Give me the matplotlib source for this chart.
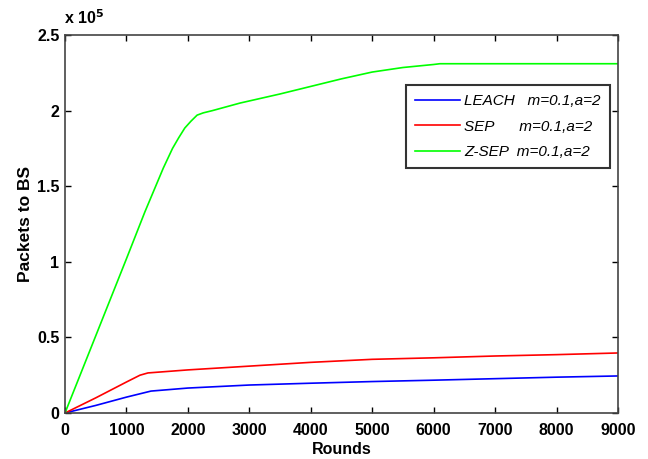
import matplotlib.pyplot as plt

plt.rcParams["font.family"] = ["Liberation Sans", "DejaVu Sans"]

# Packets delivered to base station (units of 1e5) vs rounds
rounds_zsep = [0, 500, 1000, 1300, 1600, 1750, 1850, 1950, 2050, 2150, 2250,
               2400, 2850, 3500, 4000, 4500, 5000, 5500, 6000, 6100, 7000, 8000, 9000]
pkts_zsep = [0, 0.51, 1.02, 1.33, 1.62, 1.75, 1.82, 1.885, 1.93, 1.97, 1.985,
             2.00, 2.05, 2.11, 2.16, 2.21, 2.255, 2.285, 2.305, 2.31, 2.31, 2.31, 2.31]

rounds_sep = [0, 500, 1000, 1220, 1350, 2000, 3000, 4000, 5000, 6000, 7000, 8000, 9000]
pkts_sep = [0, 0.10, 0.205, 0.25, 0.265, 0.285, 0.31, 0.335, 0.355, 0.365, 0.377, 0.386, 0.397]

rounds_leach = [0, 500, 1000, 1400, 2000, 3000, 4000, 5000, 6000, 7000, 8000, 9000]
pkts_leach = [0, 0.05, 0.105, 0.145, 0.165, 0.185, 0.197, 0.208, 0.217, 0.227, 0.237, 0.245]

x_ticks = list(range(0, 9001, 1000))
y_ticks = [0, 0.5, 1, 1.5, 2, 2.5]
y_tick_labels = ["0", "0.5", "1", "1.5", "2", "2.5"]

fig = plt.figure(figsize=(6.48, 4.59), dpi=100)
ax = fig.add_axes([65 / 648, 1 - 413 / 459, 553 / 648, 378 / 459])

ax.plot(rounds_leach, pkts_leach, color="#0000ff", lw=1.2, label="LEACH   m=0.1,a=2")
ax.plot(rounds_sep, pkts_sep, color="#ff0000", lw=1.2, label="SEP      m=0.1,a=2")
ax.plot(rounds_zsep, pkts_zsep, color="#00ff00", lw=1.2, label="Z-SEP  m=0.1,a=2")

ax.set_xlim(0, 9000)
ax.set_ylim(0, 2.5)
ax.set_xticks(x_ticks)
ax.set_xticklabels([str(t) for t in x_ticks])
ax.set_yticks(y_ticks)
ax.set_yticklabels(y_tick_labels)
ax.tick_params(direction="in", top=True, right=True, length=4, width=1,
               labelsize=11.5)
ax.tick_params(axis="x", pad=7)
ax.tick_params(axis="y", pad=4)
for lbl in ax.get_xticklabels() + ax.get_yticklabels():
    lbl.set_fontweight("bold")
for sp in ax.spines.values():
    sp.set_color("#444444")
    sp.set_linewidth(1.2)

ax.set_xlabel("Rounds", fontsize=11.5, fontweight="bold", labelpad=3)
ax.set_ylabel("Packets to BS", fontsize=12.5, fontweight="bold", labelpad=3)
fig.text(64 / 648, 1 - 18 / 459, r"x 10$^{\mathbf{5}}$", fontsize=11.5,
         fontweight="bold", va="center", ha="left")

leg = ax.legend(loc="upper right", bbox_to_anchor=(1 - 8 / 553, 0.868),
                borderaxespad=0, prop={"style": "italic", "size": 11},
                frameon=True, fancybox=False, edgecolor="black",
                handlelength=2.9, borderpad=0.6, labelspacing=0.75,
                handletextpad=0.3)
leg.get_frame().set_linewidth(1.5)

fig.savefig("out.png", dpi=100)
